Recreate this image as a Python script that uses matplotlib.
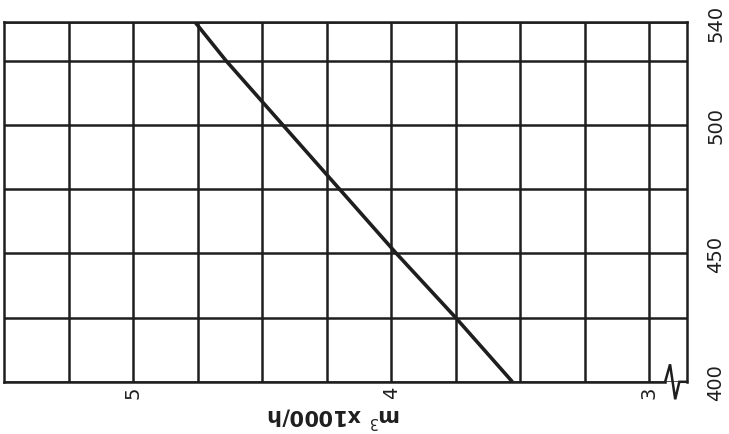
import matplotlib
matplotlib.use("Agg")
import matplotlib.pyplot as plt
import numpy as np

# flow (m3 x 1000/h), against the 400..540 scale
scale_vals = [400, 425, 450, 475, 500, 525, 540]
flow_vals = [3.53, 3.75, 3.98, 4.20, 4.42, 4.64, 4.76]

flow_ticks = [3, 4, 5]
flow_grid = [3.25, 3.5, 3.75, 4.25, 4.5, 4.75, 5.25]
scale_ticks = [400, 450, 500, 540]
scale_grid = [425, 475, 525]

INK = "#1e1e1e"

plt.rcParams.update({
    "font.family": "DejaVu Sans",
    "axes.edgecolor": INK,
    "axes.linewidth": 1.8,
})

fig = plt.figure(figsize=(7.29, 4.35), dpi=100)
ax = fig.add_axes([0.0055, 0.12, 0.937, 0.827])

x_left, x_right = 5.5, 2.853
ax.set_xlim(x_left, x_right)
ax.set_ylim(400, 540)

ax.plot(flow_vals, scale_vals, color=INK, lw=2.6, solid_capstyle="butt")

ax.set_xticks(flow_ticks)
ax.set_xticks(flow_grid, minor=True)
ax.set_yticks(scale_ticks)
ax.set_yticks(scale_grid, minor=True)
ax.grid(True, which="both", color=INK, lw=1.8)
ax.set_axisbelow(True)

ax.yaxis.tick_right()
ax.tick_params(which="both", length=0)
ax.tick_params(axis="y", pad=14, labelsize=14, colors=INK)
ax.tick_params(axis="x", pad=3, labelsize=14, colors=INK)
for lab in ax.get_yticklabels():
    lab.set_rotation(90)
    lab.set_va("center")
for lab in ax.get_xticklabels():
    lab.set_rotation(90)
    lab.set_ha("center")

ax.set_xlabel("m$^3$ x1000/h", rotation=180, fontsize=15, fontweight="bold",
              color=INK, labelpad=2)
ax.xaxis.set_label_coords(0.484, -0.06)

# broken axis mark between 3 and the right edge
ax.spines["bottom"].set_bounds(2.938, x_left)
ax.plot([2.938, 2.919, 2.899, 2.883, x_right], [400, 406.8, 393.2, 400, 400],
        color=INK, lw=1.8, clip_on=False, solid_joinstyle="miter")

fig.savefig("out.png", dpi=100)
